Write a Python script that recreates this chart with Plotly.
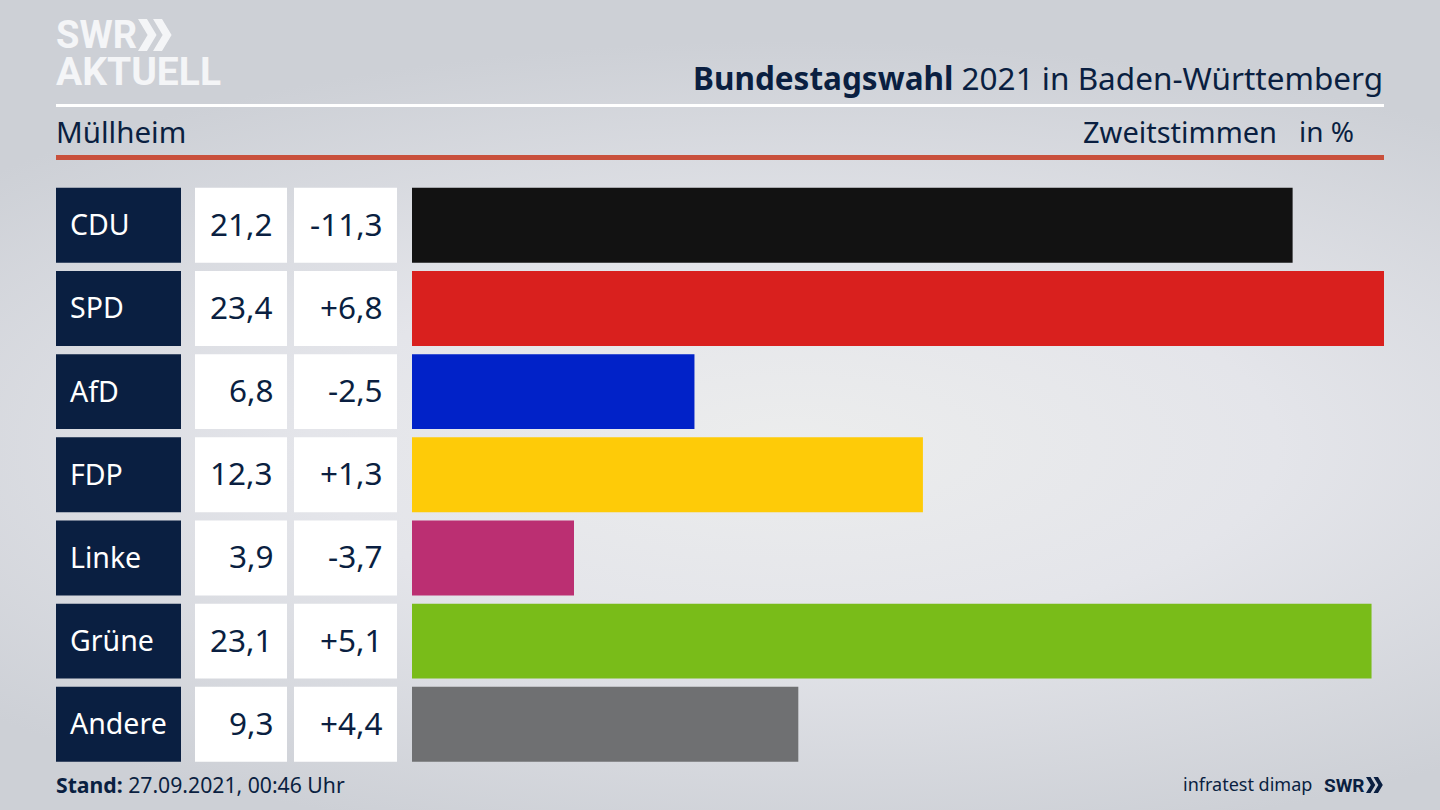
import plotly.graph_objects as go

W, H = 1440, 810

parties = ['CDU', 'SPD', 'AfD', 'FDP', 'Linke', 'Grüne', 'Andere']
shares = [21.2, 23.4, 6.8, 12.3, 3.9, 23.1, 9.3]
changes = [-11.3, 6.8, -2.5, 1.3, -3.7, 5.1, 4.4]
bar_colors = ['#121212', '#d9201e', '#0122c8', '#fecb08', '#bb2f72', '#79bc19', '#6f7072']

FONT = 'Noto Sans'
LOGO_FONT = 'Roboto'
NAVY = '#0a1f41'
LOGO_WHITE = '#f4f5f7'


def px(x):
    return x / W


def py(y):
    return 1 - y / H


def cell_axis(x0, x1):
    return dict(domain=[px(x0), px(x1)], range=[0, 1], visible=False, fixedrange=True)


def label(x, y, text, size, color=NAVY, anchor='left', font=FONT):
    # annotations carry 2px of padding, take it back so x is the real text edge
    x = x - 2 if anchor == 'left' else x + 2
    return dict(x=px(x), y=py(y), xref='paper', yref='paper', text=text, showarrow=False,
                xanchor=anchor, yanchor='middle', font=dict(family=font, size=size, color=color))


def rule(y0, y1, color):
    return dict(type='rect', xref='paper', yref='paper', x0=px(56), x1=px(1384), y0=py(y0), y1=py(y1),
                fillcolor=color, line_width=0)


def chevrons(x, y, h, color):
    # the two arrows of the SWR logo, drawn in page pixels
    w = h * 0.3
    thick = h * 0.28
    gap = h * 0.47
    out = []
    for i in range(2):
        x0 = x + i * gap
        path = (f'M {px(x0)} {py(y)} L {px(x0 + thick)} {py(y)} L {px(x0 + thick + w)} {py(y + h / 2)} '
                f'L {px(x0 + thick)} {py(y + h)} L {px(x0)} {py(y + h)} L {px(x0 + w)} {py(y + h / 2)} Z')
        out.append(dict(type='path', xref='paper', yref='paper', path=path, fillcolor=color, line_width=0))
    return out


fig = go.Figure()

# value bars and the cells next to them share the category axis
fig.add_trace(go.Bar(x=shares, y=parties, orientation='h', marker=dict(color=bar_colors, line_width=0),
                     hoverinfo='skip', showlegend=False))
for axis, color in [('x2', NAVY), ('x3', 'white'), ('x4', 'white')]:
    fig.add_trace(go.Bar(x=[1] * len(parties), y=parties, orientation='h', xaxis=axis,
                         marker=dict(color=color, line_width=0), hoverinfo='skip', showlegend=False))

annotations = [
    label(1383, 77.5, '<b>Bundestagswahl</b> 2021 in Baden-Württemberg', 31.5, anchor='right'),
    label(56, 131, 'Müllheim', 29.5),
    label(1277, 131, 'Zweitstimmen', 29, anchor='right'),
    label(1354, 131, 'in %', 28, anchor='right'),
    label(56, 784, '<b>Stand:</b> 27.09.2021, 00:46 Uhr', 21.2),
    label(1312, 784, 'infratest dimap', 18, anchor='right'),
    label(1324, 785, '<b>SWR</b>', 19, font=LOGO_FONT),
    label(56, 35, '<b>SWR</b>', 38, color=LOGO_WHITE, font=LOGO_FONT),
    label(56, 72, '<b>AKTUELL</b>', 39, color=LOGO_WHITE, font=LOGO_FONT),
]
for name, share, change in zip(parties, shares, changes):
    share_text = f'{share:.1f}'.replace('.', ',')
    change_text = f'{change:+.1f}'.replace('.', ',')
    for x, text, color, anchor, size, shift in [(68, name, 'white', 'left', 28.5, 1),
                                                (275, share_text, NAVY, 'right', 31.5, 2),
                                                (385, change_text, NAVY, 'right', 31.5, 2)]:
        annotations.append(dict(x=px(x), xref='paper', y=name, yref='y', yshift=shift, text=text, showarrow=False,
                                xanchor=anchor, yanchor='middle',
                                font=dict(family=FONT, size=size, color=color)))

fig.update_layout(
    width=W, height=H,
    margin=dict(l=0, r=0, t=0, b=0),
    paper_bgcolor='rgba(0,0,0,0)',
    plot_bgcolor='rgba(0,0,0,0)',
    bargap=1 - 75 / 83.25,
    xaxis=dict(domain=[px(412), px(1384)], range=[0, 23.4], visible=False, fixedrange=True),
    xaxis2=cell_axis(56, 181),
    xaxis3=cell_axis(195, 287),
    xaxis4=cell_axis(294, 397),
    yaxis=dict(domain=[py(765.9), py(183.7)], autorange='reversed', visible=False, fixedrange=True),
    annotations=annotations,
    shapes=[rule(104, 107, 'white'), rule(155, 160, '#c9503c')]
           + chevrons(138, 19, 32, LOGO_WHITE) + chevrons(1366, 777, 16, NAVY),
)

background = ("document.body.style.margin='0';"
              "document.body.style.overflow='hidden';"
              "document.body.style.background="
              "'radial-gradient(ellipse 75% 50% at 55% 55%, #eceded 0%, #e4e5ea 45%, #cdd0d6 100%)';")
fig.write_html("out.html", post_script=background, config=dict(displayModeBar=False))
